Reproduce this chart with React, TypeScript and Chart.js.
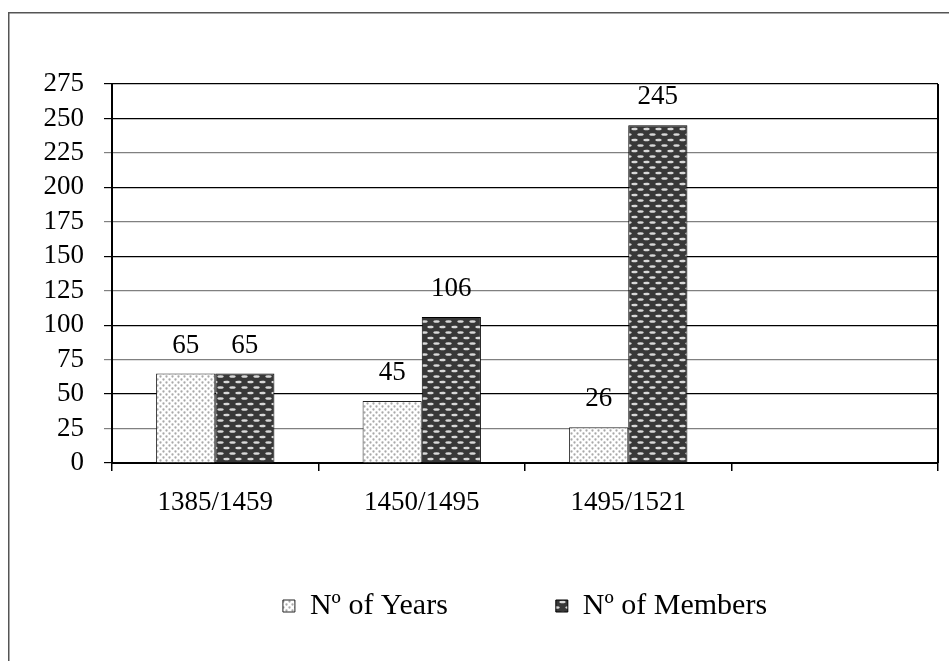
import React, { useEffect, useRef } from "react";
import { Chart, registerables } from "chart.js";

Chart.register(...registerables);

const categories = ["1385/1459", "1450/1495", "1495/1521", ""];
const seriesNames = ["Nº of Years", "Nº of Members"];
const yearsValues: (number | null)[] = [65, 45, 26, null];
const membersValues: (number | null)[] = [65, 106, 245, null];
const yMin = 0;
const yMax = 275;
const yStep = 25;

const FONT = "'Liberation Serif', 'Times New Roman', serif";
const LEGEND_FONT_SIZE = 30;
const LEGEND_GAP = 108;
const LEGEND_CENTER_Y = 606;

function makeLightPattern(): CanvasPattern | string {
  const c = document.createElement("canvas");
  c.width = 6;
  c.height = 6;
  const g = c.getContext("2d");
  if (!g) return "#eee";
  g.fillStyle = "#ffffff";
  g.fillRect(0, 0, 6, 6);
  g.fillStyle = "#a9a9a9";
  const dots = [
    [1.5, 1.5],
    [4.5, 4.5],
  ];
  for (const [x, y] of dots) {
    g.beginPath();
    g.arc(x, y, 1.15, 0, Math.PI * 2);
    g.fill();
  }
  return g.createPattern(c, "repeat") || "#eee";
}

function makeDarkPattern(): CanvasPattern | string {
  const w = 12;
  const h = 11;
  const c = document.createElement("canvas");
  c.width = w;
  c.height = h;
  const g = c.getContext("2d");
  if (!g) return "#333";
  g.fillStyle = "#383838";
  g.fillRect(0, 0, w, h);
  g.fillStyle = "#d9d9d9";
  const dashes = [
    [4.5, 2.5],
    [10.5, 8],
  ];
  for (const [x, y] of dashes) {
    for (const dx of [-w, 0, w]) {
      g.beginPath();
      g.ellipse(x + dx, y, 3.2, 1.3, 0, 0, Math.PI * 2);
      g.fill();
    }
  }
  return g.createPattern(c, "repeat") || "#333";
}

const frame = {
  id: "frame",
  afterLayout(chart: any) {
    const lg = chart.legend;
    if (lg) {
      const h = lg.height;
      lg.top = LEGEND_CENTER_Y - LEGEND_GAP - LEGEND_FONT_SIZE / 2;
      lg.bottom = lg.top + h;
    }
  },
  beforeDraw(chart: any) {
    const ctx = chart.ctx;
    ctx.save();
    ctx.fillStyle = "#ffffff";
    ctx.fillRect(0, 0, chart.width, chart.height);
    ctx.strokeStyle = "#555555";
    ctx.lineWidth = 1.5;
    ctx.beginPath();
    ctx.moveTo(8.75, chart.height);
    ctx.lineTo(8.75, 12.75);
    ctx.lineTo(chart.width, 12.75);
    ctx.stroke();
    ctx.restore();
  },
  afterDraw(chart: any) {
    const { ctx, chartArea } = chart;
    ctx.save();
    ctx.strokeStyle = "#000000";
    ctx.lineWidth = 2;
    ctx.beginPath();
    ctx.moveTo(chartArea.right, chartArea.top);
    ctx.lineTo(chartArea.right, chartArea.bottom);
    ctx.stroke();
    ctx.restore();
  },
};

const valueLabels = {
  id: "valueLabels",
  afterDatasetsDraw(chart: any) {
    const ctx = chart.ctx;
    ctx.save();
    ctx.font = `27px ${FONT}`;
    ctx.fillStyle = "#000000";
    ctx.textAlign = "center";
    ctx.textBaseline = "middle";
    chart.data.datasets.forEach((ds: any, i: number) => {
      const meta = chart.getDatasetMeta(i);
      meta.data.forEach((el: any, j: number) => {
        const v = ds.data[j];
        if (v === null || v === undefined) return;
        ctx.fillText(String(v), el.x, el.y - 28);
      });
    });
    ctx.restore();
  },
};

export default function App() {
  const ref = useRef<HTMLCanvasElement | null>(null);

  useEffect(() => {
    if (!ref.current) return;
    const light = makeLightPattern();
    const dark = makeDarkPattern();
    const chart = new Chart(ref.current, {
      type: "bar",
      data: {
        labels: categories,
        datasets: [
          {
            label: seriesNames[0],
            data: yearsValues,
            backgroundColor: light as any,
            borderColor: "#222222",
            borderWidth: 1,
            categoryPercentage: 0.573,
            barPercentage: 1,
          },
          {
            label: seriesNames[1],
            data: membersValues,
            backgroundColor: dark as any,
            borderColor: "#000000",
            borderWidth: 1,
            categoryPercentage: 0.573,
            barPercentage: 1,
          },
        ],
      },
      options: {
        responsive: false,
        animation: false,
        devicePixelRatio: 1,
        layout: { padding: { top: 84, right: 11, left: 0, bottom: -8 } },
        plugins: {
          tooltip: { enabled: false },
          legend: {
            position: "bottom",
            fullSize: false,
            labels: {
              boxWidth: 12,
              boxHeight: 12,
              padding: LEGEND_GAP,
              color: "#000000",
              font: { family: FONT, size: LEGEND_FONT_SIZE },
            },
          },
        },
        scales: {
          x: {
            afterFit: (s: any) => {
              s.height = 58;
            },
            grid: {
              display: true,
              drawOnChartArea: false,
              offset: true,
              color: "#000000",
              lineWidth: 1.5,
              tickLength: 8,
            },
            border: { display: true, color: "#000000", width: 2 },
            ticks: {
              color: "#000000",
              font: { family: FONT, size: 27 },
              padding: 16,
              maxRotation: 0,
              autoSkip: false,
            },
          },
          y: {
            min: yMin,
            max: yMax,
            afterFit: (s: any) => {
              s.width = 112;
            },
            grid: {
              color: (c: any) =>
                c.tick && (c.tick.value % 50 === 0 || c.tick.value === yMax)
                  ? "#000000"
                  : "#808080",
              lineWidth: 1.2,
              tickLength: 8,
            },
            border: { display: true, color: "#000000", width: 2 },
            ticks: {
              stepSize: yStep,
              autoSkip: false,
              color: "#000000",
              font: { family: FONT, size: 27 },
              padding: 20,
            },
          },
        },
      },
      plugins: [frame, valueLabels],
    });
    return () => chart.destroy();
  }, []);

  return (
    <canvas
      ref={ref}
      width={949}
      height={661}
      style={{ position: "fixed", left: 0, top: 0, width: 949, height: 661 }}
    />
  );
}
